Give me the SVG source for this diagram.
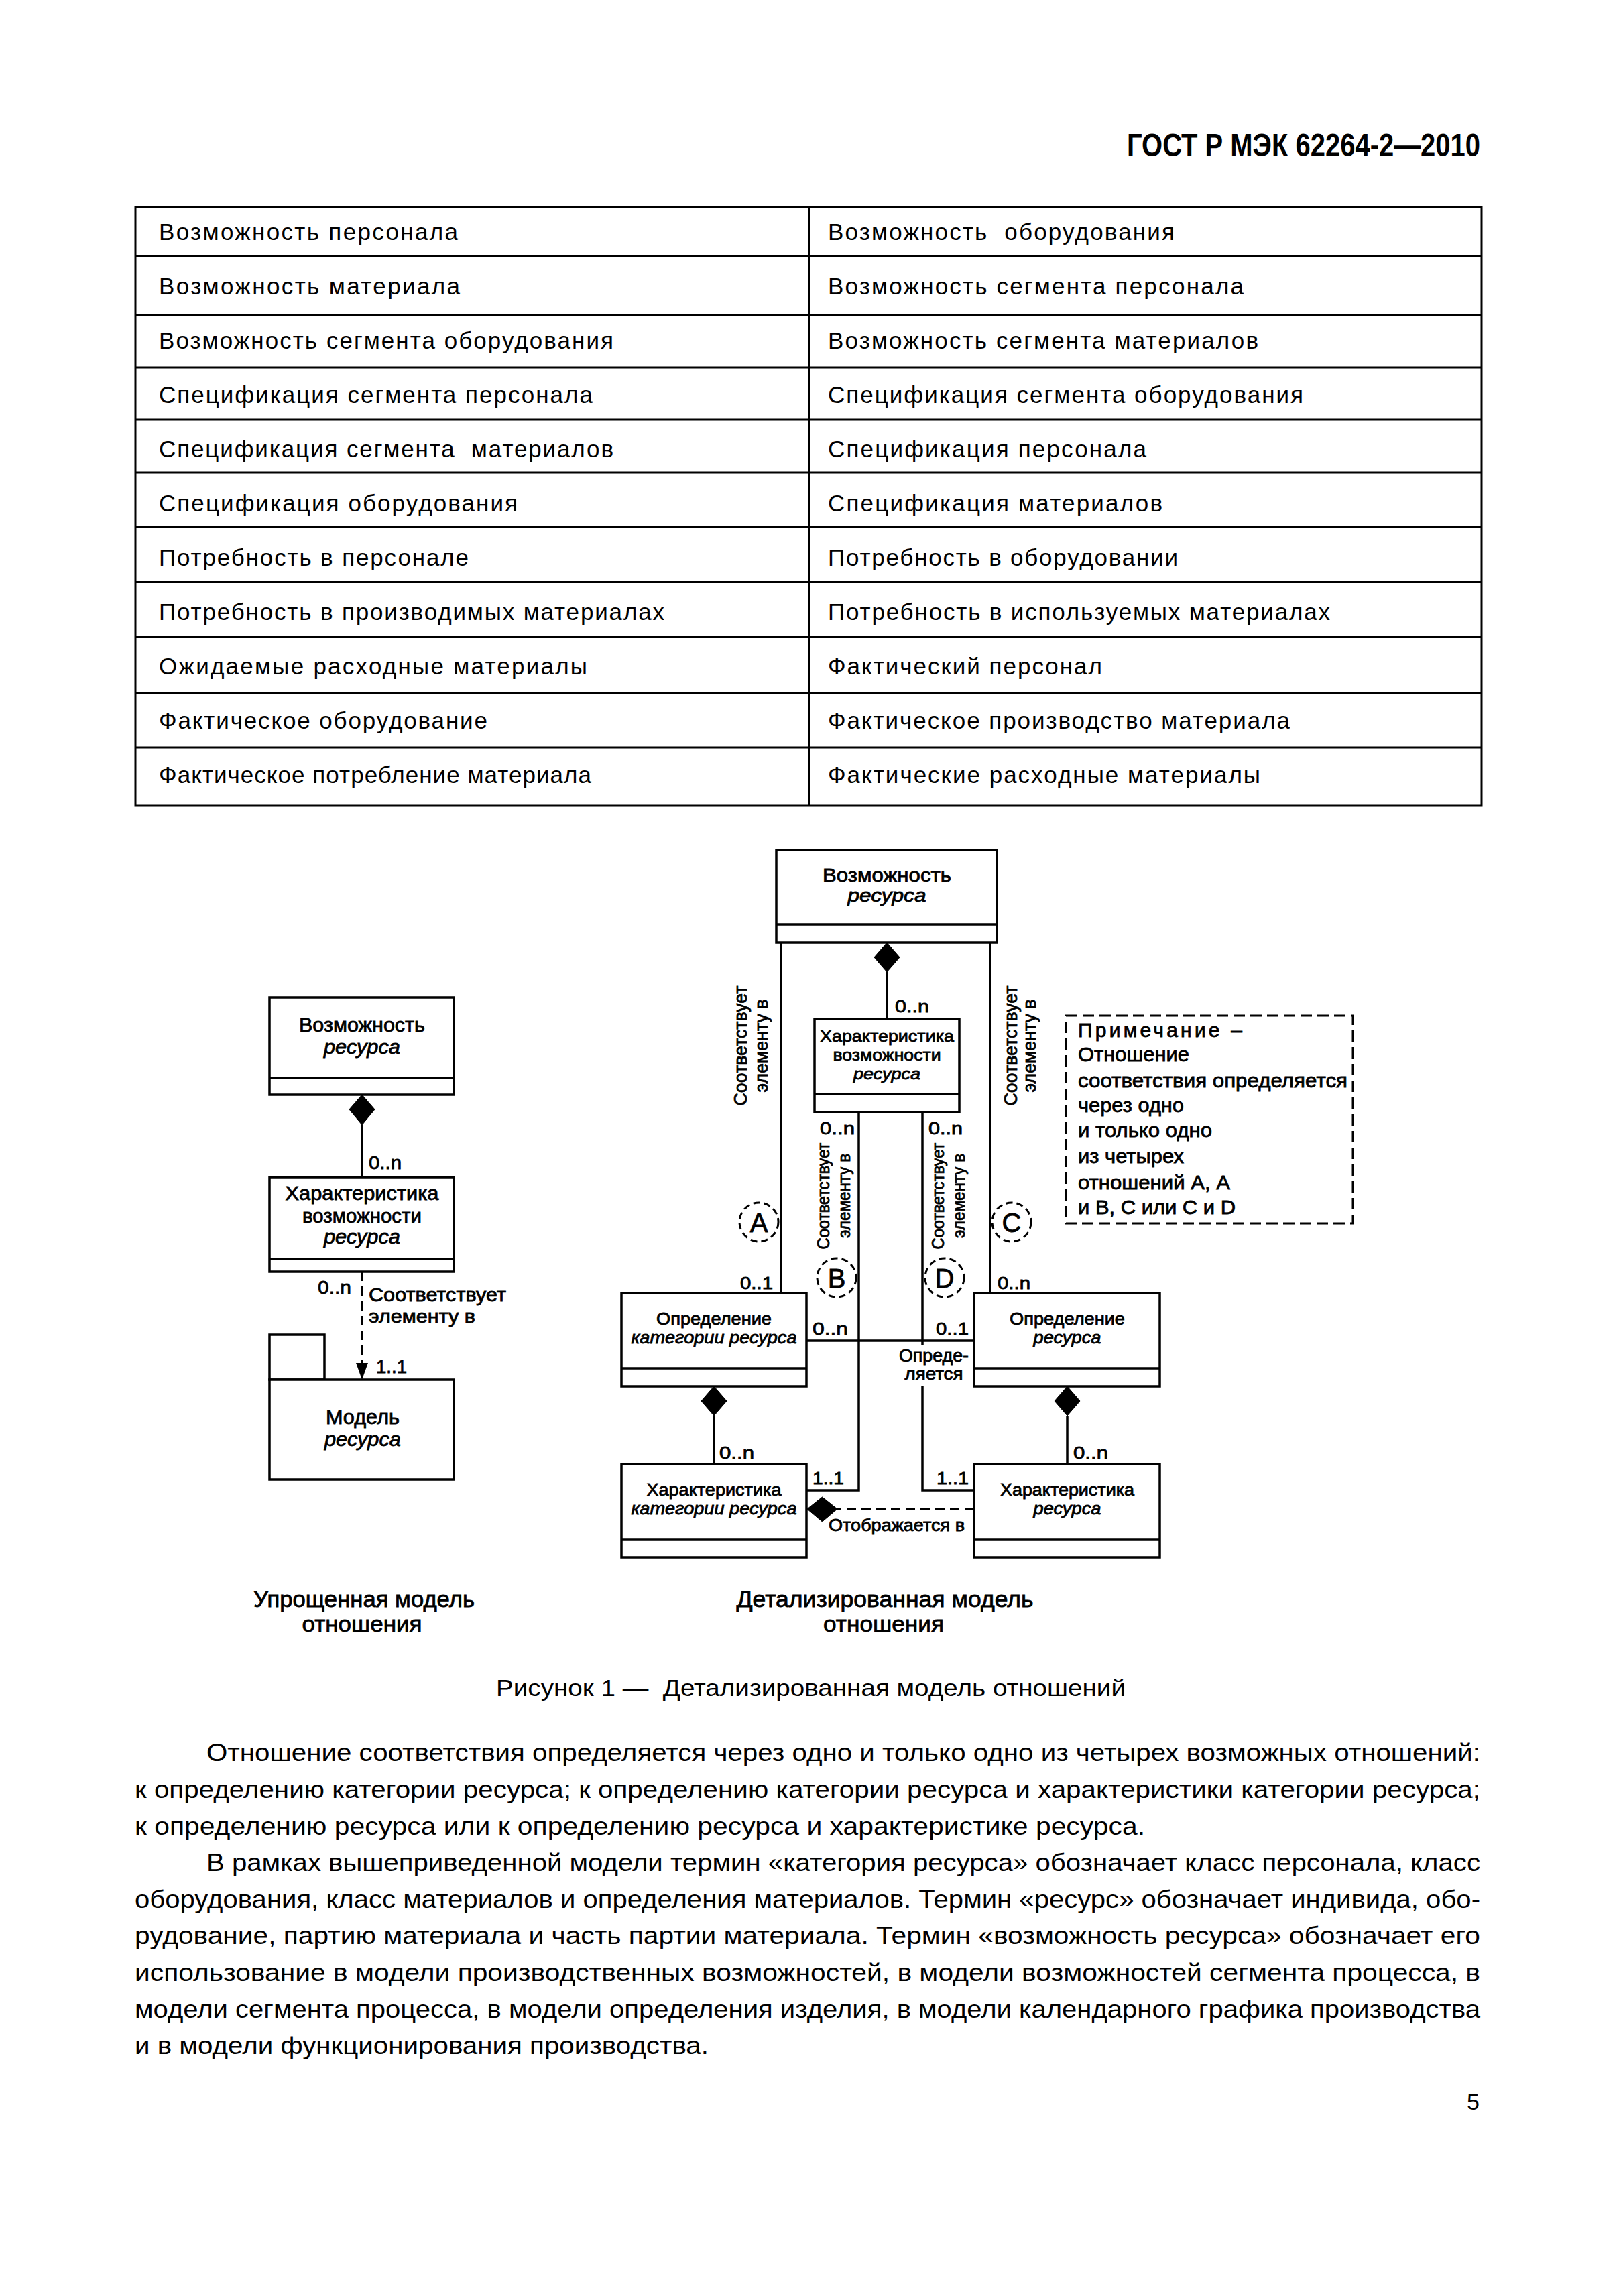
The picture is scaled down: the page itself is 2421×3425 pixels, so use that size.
<svg xmlns="http://www.w3.org/2000/svg" width="2421" height="3425" viewBox="0 0 2421 3425">
<style>
text{font-family:"Liberation Sans",Arial,sans-serif;fill:#000}
.t{font-size:35px}
.b{font-size:36px}
.d30{font-size:30px}
.d28{font-size:28px}
.d25{font-size:25px}
.d24{font-size:24px}
.m{text-anchor:middle}
.i{font-style:italic}
.dg text{stroke:#000;stroke-width:0.8px}
.box{fill:#fff;stroke:#000;stroke-width:3.5}
.ln{fill:none;stroke:#000;stroke-width:3.5}
.tl{fill:none;stroke:#000;stroke-width:3}
.dash{stroke-dasharray:14 8}
.cir{fill:none;stroke:#000;stroke-width:3;stroke-dasharray:10 6}
.dia{fill:#000;stroke:#000;stroke-width:1}
</style>
<rect width="2421" height="3425" fill="#fff"/>
<text x="1681" y="233" font-size="48" font-weight="bold" textLength="527" lengthAdjust="spacingAndGlyphs">ГОСТ Р МЭК 62264-2—2010</text>
<g id="table">
<rect class="tl" x="202" y="309" width="2008" height="893"/>
<path class="tl" d="M1207,309V1202M202,382H2210M202,470H2210M202,548H2210M202,626H2210M202,705H2210M202,786H2210M202,868H2210M202,950H2210M202,1034H2210M202,1115H2210"/>
<g class="t">
<text x="237" y="358" textLength="446" lengthAdjust="spacing">Возможность персонала</text>
<text x="237" y="439" textLength="449" lengthAdjust="spacing">Возможность материала</text>
<text x="237" y="520" textLength="678" lengthAdjust="spacing">Возможность сегмента оборудования</text>
<text x="237" y="601" textLength="647" lengthAdjust="spacing">Спецификация сегмента персонала</text>
<text x="237" y="682" textLength="678" lengthAdjust="spacing" xml:space="preserve">Спецификация сегмента  материалов</text>
<text x="237" y="763" textLength="535" lengthAdjust="spacing">Спецификация оборудования</text>
<text x="237" y="844" textLength="462" lengthAdjust="spacing">Потребность в персонале</text>
<text x="237" y="925" textLength="754" lengthAdjust="spacing">Потребность в производимых материалах</text>
<text x="237" y="1006" textLength="639" lengthAdjust="spacing">Ожидаемые расходные материалы</text>
<text x="237" y="1087" textLength="490" lengthAdjust="spacing">Фактическое оборудование</text>
<text x="237" y="1168" textLength="645" lengthAdjust="spacing">Фактическое потребление материала</text>
<text x="1235" y="358" textLength="517" lengthAdjust="spacing" xml:space="preserve">Возможность  оборудования</text>
<text x="1235" y="439" textLength="620" lengthAdjust="spacing">Возможность сегмента персонала</text>
<text x="1235" y="520" textLength="642" lengthAdjust="spacing">Возможность сегмента материалов</text>
<text x="1235" y="601" textLength="709" lengthAdjust="spacing">Спецификация сегмента оборудования</text>
<text x="1235" y="682" textLength="475" lengthAdjust="spacing">Спецификация персонала</text>
<text x="1235" y="763" textLength="499" lengthAdjust="spacing">Спецификация материалов</text>
<text x="1235" y="844" textLength="522" lengthAdjust="spacing">Потребность в оборудовании</text>
<text x="1235" y="925" textLength="749" lengthAdjust="spacing">Потребность в используемых материалах</text>
<text x="1235" y="1006" textLength="409" lengthAdjust="spacing">Фактический персонал</text>
<text x="1235" y="1087" textLength="689" lengthAdjust="spacing">Фактическое производство материала</text>
<text x="1235" y="1168" textLength="645" lengthAdjust="spacing">Фактические расходные материалы</text>
</g>
</g>

<g class="dg">
<g id="connectors">
<path class="ln" d="M540,1678V1756"/>
<path class="ln dash" d="M540,1897V2036"/>
<polygon points="540,2058 531,2033 549,2033" fill="#000"/>
<path class="ln" d="M1323,1450V1520"/>
<path class="ln" d="M1165,1406V1929M1477,1406V1929"/>
<path class="ln" d="M1281,1659V2223H1203"/>
<path class="ln" d="M1376,1659V2007M1376,2068V2223H1453"/>
<path class="ln" d="M1203,2000H1453"/>
<path class="ln" d="M1065,2112V2184M1592,2112V2184"/>
<path class="ln dash" d="M1453,2251H1249"/>
<polygon class="dia" points="540,1633 559,1655 540,1678 521,1655"/>
<polygon class="dia" points="1323,1406 1342,1428 1323,1450 1304,1428"/>
<polygon class="dia" points="1065,2068 1084,2090 1065,2112 1046,2090"/>
<polygon class="dia" points="1592,2068 1611,2090 1592,2112 1573,2090"/>
<polygon class="dia" points="1204,2251 1226.5,2233 1249,2251 1226.5,2270"/>
<g class="d28">
<text x="550" y="1744" textLength="49" lengthAdjust="spacingAndGlyphs">0..n</text>
<text x="474" y="1930" textLength="50" lengthAdjust="spacingAndGlyphs">0..n</text>
<text x="550" y="1941" textLength="205" lengthAdjust="spacingAndGlyphs">Соответствует</text>
<text x="550" y="1973" textLength="159" lengthAdjust="spacingAndGlyphs">элементу в</text>
<text x="561" y="2048" textLength="46" lengthAdjust="spacingAndGlyphs">1..1</text>
</g>
<g class="d25">
<text x="1335" y="1510" textLength="51" lengthAdjust="spacingAndGlyphs">0..n</text>
<text x="1223" y="1692" textLength="52" lengthAdjust="spacingAndGlyphs">0..n</text>
<text x="1385" y="1692" textLength="51" lengthAdjust="spacingAndGlyphs">0..n</text>
<text x="1104" y="1923" textLength="49" lengthAdjust="spacingAndGlyphs">0..1</text>
<text x="1488" y="1923" textLength="49" lengthAdjust="spacingAndGlyphs">0..n</text>
<text x="1212" y="1991" textLength="53" lengthAdjust="spacingAndGlyphs">0..n</text>
<text x="1396" y="1991" textLength="49" lengthAdjust="spacingAndGlyphs">0..1</text>
<text class="m" x="1393" y="2031" textLength="104" lengthAdjust="spacingAndGlyphs">Опреде-</text>
<text class="m" x="1393" y="2058" textLength="87" lengthAdjust="spacingAndGlyphs">ляется</text>
<text x="1073" y="2176" textLength="52" lengthAdjust="spacingAndGlyphs">0..n</text>
<text x="1601" y="2176" textLength="52" lengthAdjust="spacingAndGlyphs">0..n</text>
<text x="1212" y="2214" textLength="47" lengthAdjust="spacingAndGlyphs">1..1</text>
<text x="1397" y="2214" textLength="48" lengthAdjust="spacingAndGlyphs">1..1</text>
<text x="1236" y="2284" textLength="203" lengthAdjust="spacingAndGlyphs">Отображается в</text>
</g>
<g class="d28 m">
<text transform="translate(1114,1560) rotate(-90)" textLength="179" lengthAdjust="spacingAndGlyphs">Соответствует</text>
<text transform="translate(1145,1560) rotate(-90)" textLength="139" lengthAdjust="spacingAndGlyphs">элементу в</text>
<text transform="translate(1517,1560) rotate(-90)" textLength="179" lengthAdjust="spacingAndGlyphs">Соответствует</text>
<text transform="translate(1545,1560) rotate(-90)" textLength="139" lengthAdjust="spacingAndGlyphs">элементу в</text>
</g>
<g class="d25 m">
<text transform="translate(1237,1784) rotate(-90)" textLength="159" lengthAdjust="spacingAndGlyphs">Соответствует</text>
<text transform="translate(1268,1784) rotate(-90)" textLength="126" lengthAdjust="spacingAndGlyphs">элементу в</text>
<text transform="translate(1408,1784) rotate(-90)" textLength="159" lengthAdjust="spacingAndGlyphs">Соответствует</text>
<text transform="translate(1439,1784) rotate(-90)" textLength="126" lengthAdjust="spacingAndGlyphs">элементу в</text>
</g>
<circle class="cir" cx="1132" cy="1823" r="29"/>
<circle class="cir" cx="1248" cy="1906" r="29"/>
<circle class="cir" cx="1509" cy="1823" r="29"/>
<circle class="cir" cx="1409" cy="1906" r="29"/>
<g font-size="40" text-anchor="middle">
<text x="1132" y="1838">A</text>
<text x="1248" y="1921">B</text>
<text x="1509" y="1838">C</text>
<text x="1409" y="1921">D</text>
</g>
</g>

<g id="s-capability">
<rect class="box" x="402" y="1488" width="275" height="145"/>
<path class="ln" d="M402,1608H677"/>
<text class="d30 m" x="540" y="1539" textLength="188" lengthAdjust="spacingAndGlyphs">Возможность</text>
<text class="d30 m i" x="540" y="1572" textLength="114" lengthAdjust="spacingAndGlyphs">ресурса</text>
</g>
<g id="s-property">
<rect class="box" x="402" y="1756" width="275" height="141"/>
<path class="ln" d="M402,1878H677"/>
<text class="d30 m" x="540" y="1790" textLength="229" lengthAdjust="spacingAndGlyphs">Характеристика</text>
<text class="d30 m" x="540" y="1824" textLength="178" lengthAdjust="spacingAndGlyphs">возможности</text>
<text class="d30 m i" x="540" y="1855" textLength="114" lengthAdjust="spacingAndGlyphs">ресурса</text>
</g>
<g id="s-model">
<rect class="box" x="402" y="1991" width="82" height="67"/>
<rect class="box" x="402" y="2058" width="275" height="149"/>
<text class="d30 m" x="541" y="2124" textLength="110" lengthAdjust="spacingAndGlyphs">Модель</text>
<text class="d30 m i" x="541" y="2157" textLength="114" lengthAdjust="spacingAndGlyphs">ресурса</text>
</g>

<g id="d-capability">
<rect class="box" x="1158" y="1268" width="329" height="138"/>
<path class="ln" d="M1158,1379H1487"/>
<text class="d28 m" x="1323" y="1315" textLength="192" lengthAdjust="spacingAndGlyphs">Возможность</text>
<text class="d28 m i" x="1323" y="1345" textLength="117" lengthAdjust="spacingAndGlyphs">ресурса</text>
</g>
<g id="d-property">
<rect class="box" x="1215" y="1520" width="216" height="139"/>
<path class="ln" d="M1215,1632H1431"/>
<text class="d24 m" x="1323" y="1554" textLength="200" lengthAdjust="spacingAndGlyphs">Характеристика</text>
<text class="d24 m" x="1323" y="1582" textLength="161" lengthAdjust="spacingAndGlyphs">возможности</text>
<text class="d24 m i" x="1323" y="1610" textLength="100" lengthAdjust="spacingAndGlyphs">ресурса</text>
</g>
<g id="d-class">
<rect class="box" x="927" y="1929" width="276" height="139"/>
<path class="ln" d="M927,2041H1203"/>
<text class="d25 m" x="1065" y="1976" textLength="172" lengthAdjust="spacingAndGlyphs">Определение</text>
<text class="d25 m i" x="1065" y="2004" textLength="247" lengthAdjust="spacingAndGlyphs">категории ресурса</text>
</g>
<g id="d-resource">
<rect class="box" x="1453" y="1929" width="277" height="139"/>
<path class="ln" d="M1453,2041H1730"/>
<text class="d25 m" x="1592" y="1976" textLength="172" lengthAdjust="spacingAndGlyphs">Определение</text>
<text class="d25 m i" x="1592" y="2004" textLength="101" lengthAdjust="spacingAndGlyphs">ресурса</text>
</g>
<g id="d-class-property">
<rect class="box" x="927" y="2184" width="276" height="139"/>
<path class="ln" d="M927,2297H1203"/>
<text class="d25 m" x="1065" y="2231" textLength="201" lengthAdjust="spacingAndGlyphs">Характеристика</text>
<text class="d25 m i" x="1065" y="2259" textLength="247" lengthAdjust="spacingAndGlyphs">категории ресурса</text>
</g>
<g id="d-resource-property">
<rect class="box" x="1453" y="2184" width="277" height="139"/>
<path class="ln" d="M1453,2297H1730"/>
<text class="d25 m" x="1592" y="2231" textLength="200" lengthAdjust="spacingAndGlyphs">Характеристика</text>
<text class="d25 m i" x="1592" y="2259" textLength="101" lengthAdjust="spacingAndGlyphs">ресурса</text>
</g>
<g id="note">
<rect x="1590" y="1515" width="428" height="310" fill="none" stroke="#000" stroke-width="3" stroke-dasharray="17 8"/>
<g class="d30">
<text x="1608" y="1547" textLength="245" lengthAdjust="spacing">Примечание –</text>
<text x="1608" y="1583" textLength="166" lengthAdjust="spacingAndGlyphs">Отношение</text>
<text x="1608" y="1622" textLength="402" lengthAdjust="spacingAndGlyphs">соответствия определяется</text>
<text x="1608" y="1659" textLength="158" lengthAdjust="spacingAndGlyphs">через одно</text>
<text x="1608" y="1696" textLength="200" lengthAdjust="spacingAndGlyphs">и только одно</text>
<text x="1608" y="1735" textLength="158" lengthAdjust="spacingAndGlyphs">из четырех</text>
<text x="1608" y="1774" textLength="227" lengthAdjust="spacingAndGlyphs">отношений А, А</text>
<text x="1608" y="1811" textLength="235" lengthAdjust="spacingAndGlyphs">и В, С или С и D</text>
</g>
</g>
<g id="captions" font-size="34" text-anchor="middle">
<text x="543" y="2397" textLength="330" lengthAdjust="spacingAndGlyphs">Упрощенная модель</text>
<text x="540" y="2434" textLength="179" lengthAdjust="spacingAndGlyphs">отношения</text>
<text x="1320" y="2397" textLength="443" lengthAdjust="spacingAndGlyphs">Детализированная модель</text>
<text x="1318" y="2434" textLength="180" lengthAdjust="spacingAndGlyphs">отношения</text>
</g>
</g>
<text x="740" y="2530" font-size="35" textLength="939" lengthAdjust="spacingAndGlyphs" xml:space="preserve">Рисунок 1 —  Детализированная модель отношений</text>
<g id="body" class="b">
<text x="308" y="2627" textLength="1900" lengthAdjust="spacingAndGlyphs">Отношение соответствия определяется через одно и только одно из четырех возможных отношений:</text>
<text x="201" y="2682" textLength="2007" lengthAdjust="spacingAndGlyphs">к определению категории ресурса; к определению категории ресурса и характеристики категории ресурса;</text>
<text x="201" y="2737" textLength="1507" lengthAdjust="spacingAndGlyphs">к определению ресурса или к определению ресурса и характеристике ресурса.</text>
<text x="308" y="2791" textLength="1900" lengthAdjust="spacingAndGlyphs">В рамках вышеприведенной модели термин «категория ресурса» обозначает класс персонала, класс</text>
<text x="201" y="2846" textLength="2007" lengthAdjust="spacingAndGlyphs">оборудования, класс материалов и определения материалов. Термин «ресурс» обозначает индивида, обо-</text>
<text x="201" y="2900" textLength="2007" lengthAdjust="spacingAndGlyphs">рудование, партию материала и часть партии материала. Термин «возможность ресурса» обозначает его</text>
<text x="201" y="2955" textLength="2007" lengthAdjust="spacingAndGlyphs">использование в модели производственных возможностей, в модели возможностей сегмента процесса, в</text>
<text x="201" y="3010" textLength="2007" lengthAdjust="spacingAndGlyphs">модели сегмента процесса, в модели определения изделия, в модели календарного графика производства</text>
<text x="201" y="3064" textLength="856" lengthAdjust="spacingAndGlyphs">и в модели функционирования производства.</text>
</g>
<text x="2207" y="3147" font-size="34" text-anchor="end">5</text>
</svg>
